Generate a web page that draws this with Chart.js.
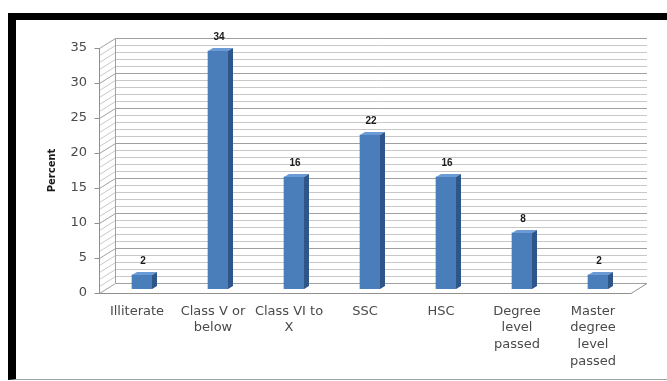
<!DOCTYPE html>
<html>
<head>
<meta charset="utf-8">
<script src="https://cdn.jsdelivr.net/npm/chart.js@4.4.0/dist/chart.umd.min.js"></script>
<style>
  html, body { margin: 0; padding: 0; background: #fff; }
  #frame {
    position: absolute; left: 8px; top: 13px;
    width: 651px; height: 359px;
    border-top: 7px solid #000; border-left: 8px solid #000;
    border-bottom: 1px solid #a0a0a0;
  }
  #chart { position: absolute; left: 0; top: 0; }
</style>
</head>
<body>
<div id="frame"></div>
<canvas id="chart" width="667" height="381"></canvas>
<script>
  // data
  const categories = [
    ['Illiterate'],
    ['Class V or', 'below'],
    ['Class VI to', 'X'],
    ['SSC'],
    ['HSC'],
    ['Degree', 'level', 'passed'],
    ['Master', 'degree', 'level', 'passed'],
  ]
  const percents = [2, 34, 16, 22, 16, 8, 2]
  const yMin = 0
  const yMax = 35
  const yStep = 5

  // 3d look
  const DX = 16, DY = -10      // wall depth
  const OX = 5, OY = -4        // bars sit mid-depth
  const BD = 5, BH = 3         // bar depth

  const fake3d = {
    id: 'fake3d',
    beforeDatasetsDraw(chart) {
      const { ctx, chartArea: a, scales: { y } } = chart
      const x0 = a.left + 0.5
      ctx.save()
      ctx.lineWidth = 1
      // back wall + left wall gridlines, one per unit
      for (let v = yMin; v <= yMax; v += 1) {
        const py = Math.round(y.getPixelForValue(v)) + 0.5
        ctx.strokeStyle = v % yStep === 0 ? '#a0a0a0' : '#c8c8c8'
        ctx.beginPath()
        ctx.moveTo(x0, py)
        ctx.lineTo(x0 + DX, py + DY)
        ctx.lineTo(a.right + DX, py + DY)
        ctx.stroke()
      }
      ctx.strokeStyle = '#a0a0a0'
      // back wall left edge
      ctx.beginPath()
      ctx.moveTo(x0 + DX, y.getPixelForValue(yMax) + DY)
      ctx.lineTo(x0 + DX, y.getPixelForValue(yMin) + DY)
      ctx.stroke()
      // front axis + floor edge
      const yb = Math.round(y.getPixelForValue(yMin)) + 0.5
      ctx.strokeStyle = '#909090'
      ctx.beginPath()
      ctx.moveTo(x0, Math.round(y.getPixelForValue(yMax)))
      ctx.lineTo(x0, yb)
      ctx.lineTo(a.right, yb)
      ctx.lineTo(a.right + DX, yb + DY)
      ctx.stroke()
      // tick marks
      for (let v = yMin; v <= yMax; v += yStep) {
        const py = Math.round(y.getPixelForValue(v)) + 0.5
        ctx.beginPath()
        ctx.moveTo(x0 - 5, py)
        ctx.lineTo(x0, py)
        ctx.stroke()
      }
      ctx.restore()
      ctx.save()
      ctx.translate(OX, OY)
    },
    afterDatasetsDraw(chart) {
      const { ctx } = chart
      ctx.restore()
      ctx.save()
      const meta = chart.getDatasetMeta(0)
      meta.data.forEach((bar, i) => {
        const { x, y, base, width } = bar.getProps(['x', 'y', 'base', 'width'], true)
        const l = x - width / 2 + OX, r = x + width / 2 + OX
        const t = y + OY, b = base + OY
        ctx.fillStyle = '#6b9bd6'
        ctx.beginPath()
        ctx.moveTo(l, t); ctx.lineTo(r, t); ctx.lineTo(r + BD, t - BH); ctx.lineTo(l + BD, t - BH)
        ctx.closePath(); ctx.fill()
        ctx.fillStyle = '#2f5688'
        ctx.beginPath()
        ctx.moveTo(r, t); ctx.lineTo(r + BD, t - BH); ctx.lineTo(r + BD, b - BH); ctx.lineTo(r, b)
        ctx.closePath(); ctx.fill()
        ctx.fillStyle = '#1a1a1a'
        ctx.font = 'bold 10px "Liberation Sans"'
        ctx.textAlign = 'center'
        ctx.textBaseline = 'middle'
        ctx.fillText(String(percents[i]), x + OX + 1, t - 14)
      })
      ctx.restore()
    },
  }

  const barConfigEducation = {
    type: 'bar',
    data: {
      labels: categories,
      datasets: [
        {
          label: 'Percent',
          backgroundColor: '#4a7ebb',
          borderWidth: 0,
          barThickness: 20,
          data: percents,
        },
      ],
    },
    options: {
      responsive: false,
      animation: false,
      layout: { padding: { left: 0, right: 36, top: 48, bottom: 0 } },
      plugins: {
        legend: { display: false },
        tooltip: { enabled: false },
      },
      scales: {
        x: {
          grid: { display: false, drawTicks: false },
          border: { display: false },
          afterFit: (s) => { s.height = 88 },
          ticks: {
            autoSkip: false,
            maxRotation: 0,
            padding: 10,
            color: '#4a4a4a',
            font: { family: 'DejaVu Sans', size: 13, lineHeight: 1.28 },
          },
        },
        y: {
          min: yMin,
          max: yMax,
          grid: { display: false, drawTicks: false },
          border: { display: false },
          afterFit: (s) => { s.width = 99 },
          ticks: {
            stepSize: yStep,
            padding: 12,
            color: '#4a4a4a',
            font: { family: 'DejaVu Sans', size: 13 },
          },
          title: {
            display: true,
            text: 'Percent',
            color: '#1a1a1a',
            padding: { top: 46, bottom: 0 },
            font: { family: 'DejaVu Sans', size: 10, weight: 'bold' },
          },
        },
      },
    },
    plugins: [fake3d],
  }

  const barsEducation = document.getElementById('chart')
  window.myBar = new Chart(barsEducation, barConfigEducation)
</script>
</body>
</html>
